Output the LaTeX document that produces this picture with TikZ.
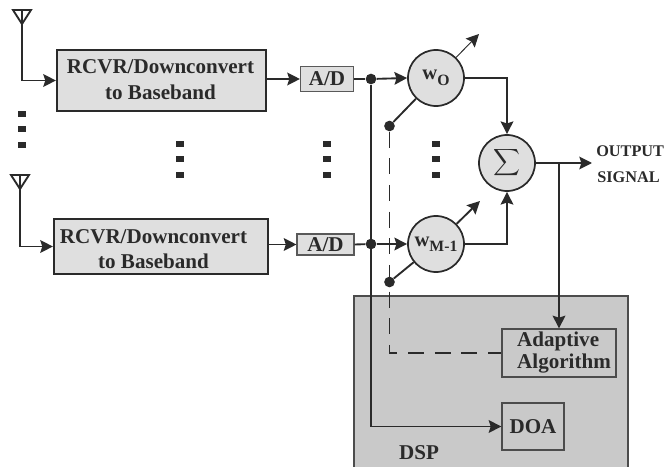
\documentclass[tikz,border=0pt]{standalone}
\usepackage{fontspec}
\setmainfont{Liberation Serif}
\usetikzlibrary{calc,arrows.meta}

\definecolor{inkline}{HTML}{2A2A2A}
\definecolor{boxgrey}{HTML}{DFDFDF}
\definecolor{dspgrey}{HTML}{C9C9C9}

\newcommand{\blocktext}{\fontsize{15.8}{19}\bfseries\selectfont}
\newcommand{\weightlabel}[1]{{\fontsize{15.5}{15}\bfseries\selectfont w}\raisebox{-4pt}{\fontsize{11.8}{12}\bfseries\selectfont #1}}

\tikzset{
  rcvrbox/.style={draw=inkline,line width=1.6pt,fill=boxgrey,inner sep=0pt},
  adbox/.style={draw=black!65,line width=0.8pt,fill=boxgrey,inner sep=0pt,font=\blocktext,text=inkline},
  dspblock/.style={draw=black!70,line width=0.9pt,fill=dspgrey,inner sep=0pt,font=\blocktext,text=inkline},
  weightnode/.style={circle,draw=inkline,line width=1.3pt,fill=boxgrey,minimum size=42pt,inner sep=0pt,text=inkline},
  joint/.style={circle,fill=inkline,minimum size=8pt,inner sep=0pt},
  blocklabel/.style={font=\blocktext,text=inkline,align=center,inner sep=0pt},
  wire/.style={draw=inkline,line width=1.4pt},
  signal/.style={wire,->},
}

\begin{document}
\begin{tikzpicture}[x=0.75pt,y=-0.75pt,>={Stealth[length=9.5pt,width=9.5pt,inset=1.5pt]}]
        \useasboundingbox (0,0) rectangle (665,467);

        % DSP area and its blocks
        \node[dspblock,line width=1.3pt,minimum width=205.5pt,minimum height=138pt] (dsp) at (491,388) {};
        \node[blocklabel] (dsplabel) at (419,453) {DSP};
        \node[dspblock,minimum width=85.5pt,minimum height=36pt] (adapt) at (559,353) {};
        \node[blocklabel,align=left,font=\fontsize{15.8}{16}\bfseries\selectfont] (adaptlabel) at (564,352.5) {Adaptive\\Algorithm};
        \node[dspblock,minimum width=46.5pt,minimum height=35.25pt] (doa) at (533,426.5) {DOA};

        % Receivers and converters
        \node[rcvrbox,minimum width=156.75pt,minimum height=45.75pt] (rcvrA) at (161.5,80.5) {};
        \node[blocklabel] (rcvrAlabel) at (160.5,79.5) {RCVR/Downconvert\\to Baseband};
        \node[rcvrbox,minimum width=160.5pt,minimum height=41.25pt] (rcvrB) at (161,246.5) {};
        \node[blocklabel] (rcvrBlabel) at (153.5,249) {RCVR/Downconvert\\to Baseband};
        \node[adbox,minimum width=39.75pt,minimum height=18.75pt] (adA) at (327,79) {A/D};
        \node[adbox,minimum width=42.75pt,minimum height=15.75pt] (adB) at (325.5,244.5) {A/D};

        % Weights and summer
        \node[weightnode] (wzero) at (436,78) {\weightlabel{O}};
        \node[weightnode] (wlast) at (436,244) {\weightlabel{M-1}};
        \node[weightnode] (sumnode) at (507,163) {\scalebox{1.4}{$\displaystyle\sum$}};

        % Joints on the lines
        \node[joint] (jointA) at (371,79) {};
        \node[joint] (jointB) at (371,244) {};
        \node[joint] (jointC) at (389.5,126) {};
        \node[joint] (jointD) at (389.5,282) {};
        \coordinate (antA) at (22,24);
        \coordinate (antB) at (20,189);
        \coordinate (tuneA) at (479,34);
        \coordinate (tuneB) at (480,201);
        \coordinate (outend) at (592,163);
        \coordinate (tap) at (adapt.north |- sumnode);

        % Antennas
        \foreach \ant in {antA,antB} {
            \draw[wire] (\ant) -- ++(-9,-14) -- ++(18,0) -- cycle;
            \draw[wire,line width=0.9pt] (\ant) -- ++(0,-14);
        }

        % Signal lines
        \draw[signal] (antA) |- (rcvrA.west);
        \draw[signal] (antB) |- (rcvrB.west);
        \draw[signal] (rcvrA.east |- adA) -- (adA.west);
        \draw[signal] (rcvrB.east |- adB) -- (adB.west);
        \draw[wire] (adA.east) -- (jointA);
        \draw[wire] (adB.east) -- (jointB);
        \draw[signal] (jointA) -- (wzero.west);
        \draw[signal] (jointB) -- (wlast.west);
        \draw[signal] (jointA) |- (doa.west);
        \draw[signal] (wzero.east) -| (sumnode.north);
        \draw[signal] (wlast.east) -| (sumnode.south);
        \draw[signal] (sumnode.east) -- (outend);
        \draw[signal] (tap) -- (adapt.north);

        % Weight control
        \draw[wire] (jointC) -- (wzero);
        \draw[wire] (jointD) -- (wlast);
        \draw[wire,dash pattern=on 12pt off 8pt] (jointC) |- (adapt.west);
        \draw[->,draw=inkline,line width=0.7pt] (wzero) -- (tuneA);
        \draw[signal] (wlast) -- (tuneB);

        % Dots between the two branches
        \foreach \x/\y in {22/114,180/144,327/144,436/144} {
            \foreach \k in {0,1,2} {
                \fill[inkline] (\x-4,\y+\k*15.5-3) rectangle ++(8,6);
            }
        }

        % Output label
        \node[font=\fontsize{12.2}{14}\bfseries\selectfont,text=inkline,anchor=west,inner sep=0pt] (outlabelA) at (596,151) {OUTPUT};
        \node[font=\fontsize{12.2}{14}\bfseries\selectfont,text=inkline,anchor=west,inner sep=0pt] (outlabelB) at (597,177) {SIGNAL};
    \end{tikzpicture}
\end{document}
